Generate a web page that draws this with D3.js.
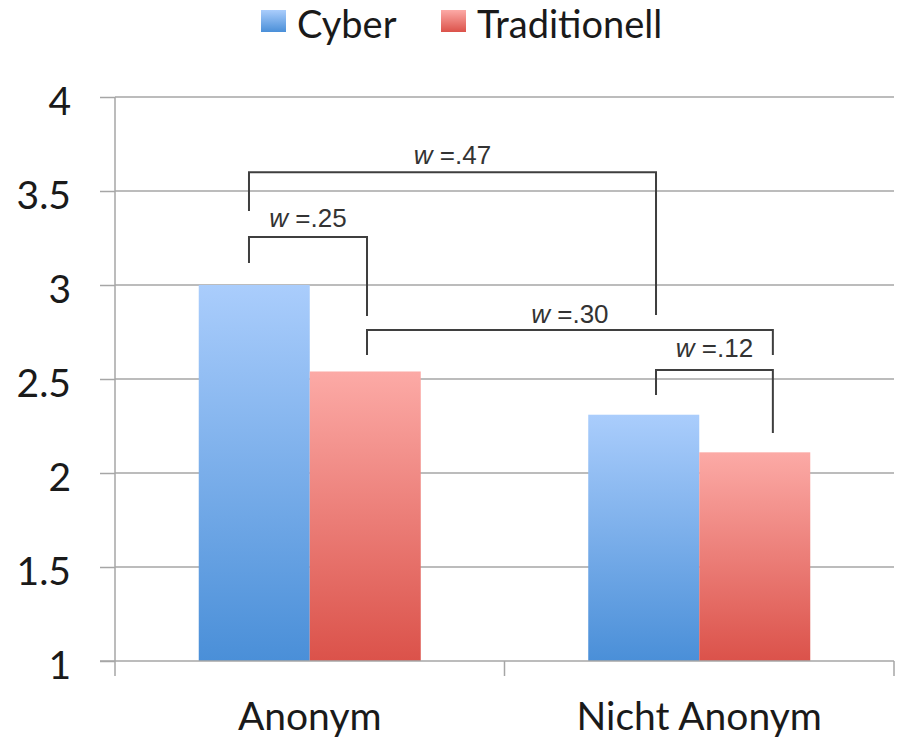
<!DOCTYPE html>
<html>
<head>
<meta charset="utf-8">
<script src="https://cdn.jsdelivr.net/npm/d3@7"></script>
<style>
  html, body { margin: 0; padding: 0; background: #fff; }
  svg { display: block; }
</style>
</head>
<body>
<svg id="chart" width="901" height="740"></svg>
<script>
// ---- data ----
const categories = ["Anonym", "Nicht Anonym"];
const seriesNames = ["Cyber", "Traditionell"];
const cyberValues = [3.0, 2.31];
const traditionellValues = [2.54, 2.11];
const yTicks = [1, 1.5, 2, 2.5, 3, 3.5, 4];
// brackets: x positions in category units (0..2), y levels in value units
const bracketLabels = ["w =.47", "w =.25", "w =.30", "w =.12"];
const bracketX1 = [0.344, 0.344, 0.647, 1.389];
const bracketX2 = [1.389, 0.647, 1.689, 1.689];
const bracketTop = [3.60, 3.255, 2.76, 2.548];
const bracketLeftEnd = [3.394, 3.117, 2.628, 2.415];
const bracketRightEnd = [2.84, 2.835, 2.628, 2.213];
const bracketLabelLevel = [3.644, 3.309, 2.798, 2.617];

(function () {
// ---- layout ----
const svg = d3.select("#chart");
const pLeft = 115, pRight = 894, pTop = 97, pBottom = 661;
const grey = "#a6a6a6";
const labelFont = "Lato, 'Open Sans', sans-serif";
const fs = 39;

const y = d3.scaleLinear().domain([1, 4]).range([pBottom, pTop]);
const x0 = d3.scaleBand().domain(categories).range([pLeft, pRight]).paddingInner(0).paddingOuter(0);
const xPos = d3.scaleLinear().domain([0, 2]).range([pLeft, pRight]);
const inner = 0.57;
const x1 = d3.scaleBand().domain(seriesNames)
  .range([x0.bandwidth() * (1 - inner) / 2, x0.bandwidth() * (1 + inner) / 2]).padding(0);

// gradients
const defs = svg.append("defs");
const grads = [
  { id: "gCyber", c1: "#aacdfc", c2: "#4a8fd8" },
  { id: "gTrad", c1: "#fcaaa6", c2: "#db524a" }
];
grads.forEach(g => {
  const lgr = defs.append("linearGradient").attr("id", g.id)
    .attr("x1", 0).attr("y1", 0).attr("x2", 0).attr("y2", 1);
  lgr.append("stop").attr("offset", "0%").attr("stop-color", g.c1);
  lgr.append("stop").attr("offset", "100%").attr("stop-color", g.c2);
});
const fills = { "Cyber": "url(#gCyber)", "Traditionell": "url(#gTrad)" };

// gridlines
svg.append("g").selectAll("line").data(yTicks.filter(t => t > 1)).join("line")
  .attr("x1", pLeft).attr("x2", pRight)
  .attr("y1", d => y(d)).attr("y2", d => y(d))
  .attr("stroke", grey).attr("stroke-width", 1.5);

// y axis
const yAxis = d3.axisLeft(y).tickValues(yTicks).tickSize(15).tickPadding(29)
  .tickFormat(d => String(d));
const ya = svg.append("g").attr("transform", `translate(${pLeft},0)`).call(yAxis);
ya.select(".domain").attr("stroke", grey).attr("stroke-width", 1.5).attr("d", `M0,${pTop}V${pBottom}`);
ya.selectAll(".tick line").attr("stroke", grey).attr("stroke-width", 1.5);
ya.selectAll(".tick text").attr("font-family", labelFont).attr("font-size", fs)
  .attr("fill", "#1a1a1a").attr("dy", "0.46em");

// bars
const rows = categories.map((c, i) => ({ cat: c, vals: [cyberValues[i], traditionellValues[i]] }));
const gBars = svg.append("g");
rows.forEach(r => {
  r.vals.forEach((v, j) => {
    gBars.append("rect")
      .attr("x", x0(r.cat) + x1(seriesNames[j]))
      .attr("width", x1.bandwidth())
      .attr("y", y(v))
      .attr("height", y(1) - y(v))
      .attr("fill", fills[seriesNames[j]]);
  });
});

// x axis
const xa = svg.append("g").attr("transform", `translate(0,${pBottom})`);
xa.append("line").attr("x1", pLeft - 15).attr("x2", pRight).attr("y1", 0).attr("y2", 0)
  .attr("stroke", grey).attr("stroke-width", 1.5);
const xTickPos = [0, 1, 2].map(i => xPos(i));
xa.selectAll(".xt").data(xTickPos).join("line").attr("class", "xt")
  .attr("x1", d => d).attr("x2", d => d).attr("y1", 0).attr("y2", 15)
  .attr("stroke", grey).attr("stroke-width", 1.5);
xa.selectAll(".xl").data(categories).join("text").attr("class", "xl")
  .attr("x", d => x0(d) + x0.bandwidth() / 2).attr("y", 69)
  .attr("text-anchor", "middle").attr("font-family", labelFont).attr("font-size", fs)
  .attr("fill", "#1a1a1a").text(d => d);

// brackets
const gBr = svg.append("g");
bracketLabels.forEach((lab, i) => {
  const bx1 = xPos(bracketX1[i]), bx2 = xPos(bracketX2[i]);
  const yt = y(bracketTop[i]);
  gBr.append("path")
    .attr("d", `M${bx1},${y(bracketLeftEnd[i])}V${yt}H${bx2}V${y(bracketRightEnd[i])}`)
    .attr("fill", "none").attr("stroke", "#3f3f3f").attr("stroke-width", 2);
  const t = gBr.append("text")
    .attr("x", (bx1 + bx2) / 2).attr("y", y(bracketLabelLevel[i]))
    .attr("text-anchor", "middle")
    .attr("font-family", "'Liberation Sans', Arial, sans-serif")
    .attr("font-size", 26).attr("fill", "#333");
  const parts = lab.split(" ");
  t.append("tspan").attr("font-style", "italic").text(parts[0]);
  t.append("tspan").text(" " + parts.slice(1).join(" "));
});

// legend
const legendX = [261, 441];
const lg = svg.append("g");
seriesNames.forEach((s, i) => {
  lg.append("rect").attr("x", legendX[i]).attr("y", 10).attr("width", 25).attr("height", 22)
    .attr("fill", fills[s]);
  lg.append("text").attr("x", legendX[i] + 36).attr("y", 38)
    .attr("font-family", labelFont).attr("font-size", fs - 1).attr("fill", "#1a1a1a").text(s);
});
})();
</script>
</body>
</html>
